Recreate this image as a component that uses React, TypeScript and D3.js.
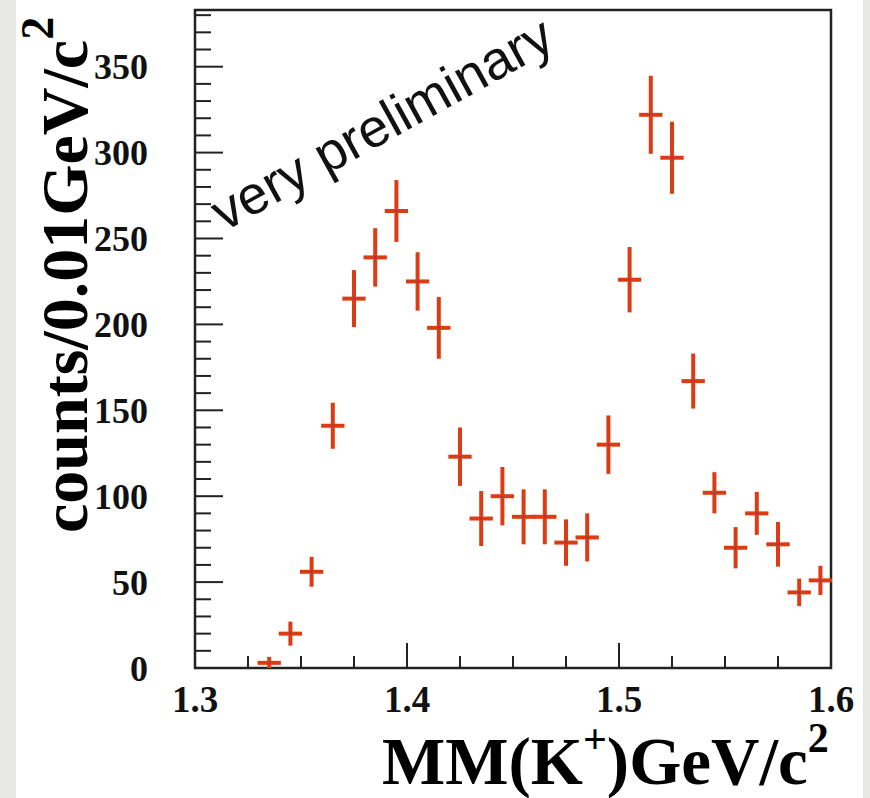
import { useRef, useEffect } from 'react';
import * as d3 from 'd3';

// MM(K+) spectrum, bins of 0.01 GeV/c^2 (bin centres)
const massBins = [
  1.335, 1.345, 1.355, 1.365, 1.375, 1.385, 1.395, 1.405, 1.415, 1.425,
  1.435, 1.445, 1.455, 1.465, 1.475, 1.485, 1.495, 1.505, 1.515, 1.525,
  1.535, 1.545, 1.555, 1.565, 1.575, 1.585, 1.595,
];
const counts = [
  3, 20, 56, 141, 215, 239, 266, 225, 198, 123,
  87, 100, 88, 88, 73, 76, 130, 226, 322, 297,
  167, 102, 70, 90, 72, 44, 51,
];
const countErrors = [
  3.5, 7, 8.7, 13.4, 16.6, 17, 18, 17, 18, 17,
  16, 17, 16, 16, 13.5, 14, 17, 19, 22.7, 21,
  16, 12, 12, 12.5, 13, 8, 8.5,
];
const binHalfWidth = 0.0055;

const xTicks = [1.3, 1.4, 1.5, 1.6];
const yTicks = [0, 50, 100, 150, 200, 250, 300, 350];

const W = 870;
const H = 798;
const FRAME = { left: 195, top: 10, right: 831, bottom: 668 };
const RED = '#dc3c14';
const SERIF = '"Liberation Serif", "Times New Roman", serif';

export default function App() {
  const svgRef = useRef<SVGSVGElement | null>(null);

  useEffect(() => {
    if (!svgRef.current) return;
    const svg = d3.select(svgRef.current);
    svg.selectAll('*').remove();

    // page background with grey side strips
    svg.append('rect').attr('width', W).attr('height', H).attr('fill', '#fff');
    svg.append('rect').attr('width', 16).attr('height', H).attr('fill', '#e7e7e5');
    svg.append('rect').attr('x', 863).attr('width', 7).attr('height', H).attr('fill', '#e7e7e5');

    const x = d3.scaleLinear().domain([1.3, 1.6]).range([FRAME.left, FRAME.right]);
    const y = d3.scaleLinear().domain([0, 383]).range([FRAME.bottom, FRAME.top]);

    // --- ticks ---
    const ticksG = svg.append('g').attr('stroke', '#222').attr('stroke-width', 2);
    d3.range(1.3, 1.6001, 0.025).forEach((v) => {
      const major = Math.abs(v * 10 - Math.round(v * 10)) < 1e-6;
      ticksG.append('line')
        .attr('x1', x(v)).attr('x2', x(v))
        .attr('y1', FRAME.bottom).attr('y2', FRAME.bottom - (major ? 25 : 12));
    });
    d3.range(0, 381, 10).forEach((v) => {
      const major = v % 50 === 0;
      ticksG.append('line')
        .attr('y1', y(v)).attr('y2', y(v))
        .attr('x1', FRAME.left).attr('x2', FRAME.left + (major ? 28 : 16));
    });

    // frame
    svg.append('rect')
      .attr('x', FRAME.left).attr('y', FRAME.top)
      .attr('width', FRAME.right - FRAME.left)
      .attr('height', FRAME.bottom - FRAME.top)
      .attr('fill', 'none')
      .attr('stroke', '#222')
      .attr('stroke-width', 2.5);

    // tick labels
    svg.append('g')
      .selectAll('text')
      .data(yTicks)
      .join('text')
      .attr('x', 148)
      .attr('y', (d) => y(d))
      .attr('dy', '0.35em')
      .attr('text-anchor', 'end')
      .attr('font-family', SERIF)
      .attr('font-weight', 'bold')
      .attr('font-size', 36)
      .attr('fill', '#111')
      .text((d) => d);

    svg.append('g')
      .selectAll('text')
      .data(xTicks)
      .join('text')
      .attr('x', (d) => x(d))
      .attr('y', 712)
      .attr('text-anchor', 'middle')
      .attr('font-family', SERIF)
      .attr('font-weight', 'bold')
      .attr('font-size', 37)
      .attr('fill', '#111')
      .text((d) => d.toFixed(1));

    // --- data points with error bars ---
    const pts = svg.append('g');
    massBins.forEach((m, i) => {
      const c = counts[i];
      const e = countErrors[i];
      pts.append('line')
        .attr('x1', x(m)).attr('x2', x(m))
        .attr('y1', Math.min(y(c - e), FRAME.bottom)).attr('y2', y(c + e))
        .attr('stroke', RED).attr('stroke-width', 4);
      pts.append('line')
        .attr('x1', x(m - binHalfWidth)).attr('x2', x(m + binHalfWidth))
        .attr('y1', y(c)).attr('y2', y(c))
        .attr('stroke', RED).attr('stroke-width', 4);
      pts.append('circle')
        .attr('cx', x(m)).attr('cy', y(c)).attr('r', 0.8)
        .attr('fill', '#3a2bd0');
    });

    // annotation
    svg.append('text')
      .attr('transform', 'translate(224,232) rotate(-29)')
      .attr('font-family', '"Liberation Sans", Arial, sans-serif')
      .attr('font-size', 54)
      .attr('fill', '#111')
      .text('very preliminary');

    // axis titles
    const xt = svg.append('text')
      .attr('x', 382)
      .attr('y', 784)
      .attr('font-family', SERIF)
      .attr('font-weight', 'bold')
      .attr('font-size', 67)
      .attr('fill', '#000');
    xt.append('tspan').text('MM(K');
    xt.append('tspan').attr('dy', -31).attr('font-size', 42).text('+');
    xt.append('tspan').attr('dy', 31).text(')GeV/c');
    xt.append('tspan').attr('dy', -32).attr('font-size', 42).text('2');

    const yt = svg.append('text')
      .attr('transform', 'translate(87,533) rotate(-90)')
      .attr('font-family', SERIF)
      .attr('font-weight', 'bold')
      .attr('font-size', 66)
      .attr('fill', '#000');
    yt.append('tspan').text('counts/0.01GeV/c');
    yt.append('tspan').attr('dy', -34).attr('font-size', 46).text('2');
  }, []);

  return (
    <svg
      ref={svgRef}
      width={W}
      height={H}
      style={{ position: 'absolute', left: 0, top: 0, display: 'block' }}
    />
  );
}
